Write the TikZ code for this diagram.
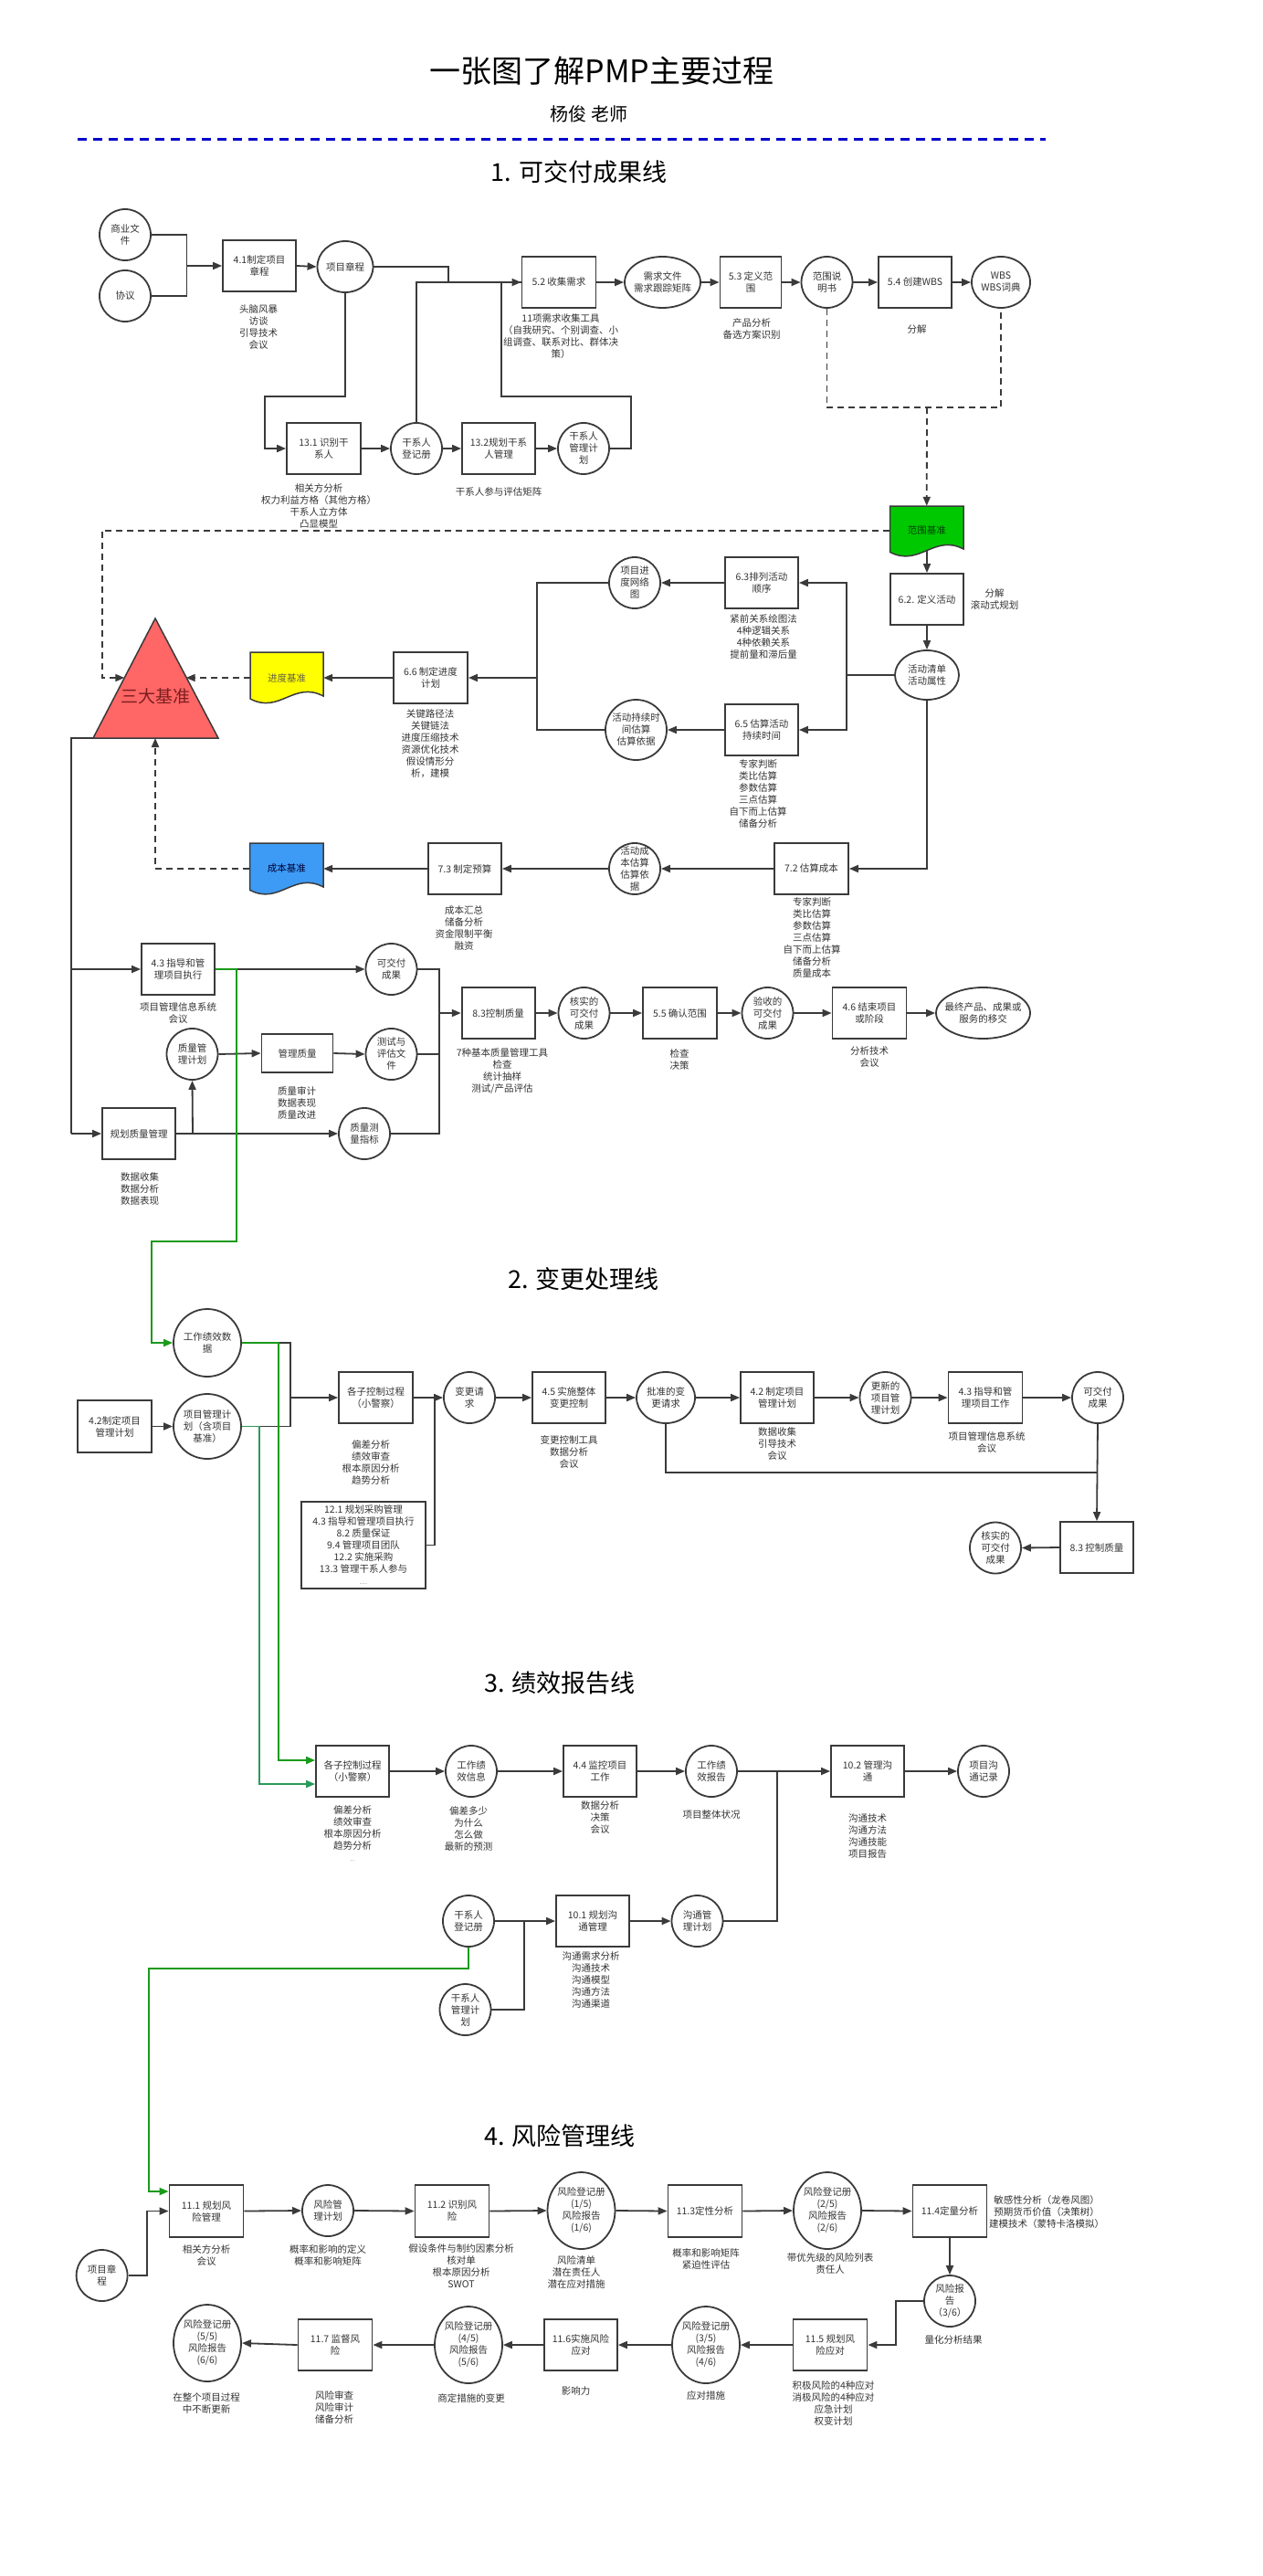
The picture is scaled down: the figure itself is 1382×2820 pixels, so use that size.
\documentclass[tikz,border=0pt]{standalone}
\usepackage{fontspec}
\setmainfont{Noto Sans CJK SC}
\usetikzlibrary{arrows.meta,shapes.geometric}
\definecolor{lc}{HTML}{3A3A3A}
\definecolor{tc}{HTML}{333333}
\definecolor{gA}{HTML}{1A9A1A}
\definecolor{gB}{HTML}{2A9A5A}
\definecolor{dashblue}{HTML}{0000CC}
\definecolor{trired}{HTML}{FF6666}
\definecolor{tritext}{HTML}{7A1F1F}
\definecolor{yel}{HTML}{FFFF00}
\definecolor{grn}{HTML}{00C800}
\definecolor{blu}{HTML}{3D9BF5}
\newcommand{\fs}{\fontsize{10.5}{13}\selectfont}
\begin{document}
\begin{tikzpicture}[x=1pt,y=-1pt,
  ln/.style={draw=lc,line width=1.8pt},
  conn/.style={ln,-{Triangle[length=10pt,width=8pt]}},
  dln/.style={ln,dash pattern=on 7pt off 5pt},
  dconn/.style={dln,-{Triangle[length=10pt,width=8pt]}},
  gconn/.style={draw=gA,line width=1.8pt,-{Triangle[length=10pt,width=8pt]}},
  gconnB/.style={draw=gB,line width=1.8pt,-{Triangle[length=10pt,width=8pt]}},
  box/.style={draw=lc,line width=1.8pt,rectangle,minimum width=80pt,minimum height=56pt,inner sep=1pt,align=center,font=\fs,text=tc},
  circ/.style={draw=lc,line width=1.8pt,ellipse,minimum width=56pt,minimum height=56pt,inner sep=0pt},
  ct/.style={align=center,font=\fs,text=tc,inner sep=0pt},
  note/.style={align=center,font=\fs,text=tc,inner sep=0pt,anchor=north},
  sect/.style={font=\fontsize{27}{32}\selectfont,text=black},
  docn/.style={inner sep=0pt,minimum width=80pt,minimum height=54pt,font=\fs}
]
\useasboundingbox (0,0) rectangle (1382,2820);
\fill[white] (0,0) rectangle (1382,2820);

% ---------- header ----------
\node[font=\fontsize{34}{40}\selectfont] (title) at (659,78) {一张图了解PMP主要过程};
\node[font=\fontsize{20}{24}\selectfont] (author) at (645,125) {杨俊 老师};
\draw[draw=dashblue,line width=3pt,dash pattern=on 10pt off 7pt] (85,153) -- (1145,153);
\node[sect] (s1) at (634,188) {1. 可交付成果线};
\node[sect] (s2) at (639,1400) {2. 变更处理线};
\node[sect] (s3) at (613,1842) {3. 绩效报告线};
\node[sect] (s4) at (613,2338) {4. 风险管理线};

% ---------- section 1 ----------
\node[circ,label={[ct]center:{商业文\\件}}] (syw) at (137,257) {};
\node[circ,label={[ct]center:{协议}}] (xy) at (137,324) {};
\node[box] (b41) at (284,291) {4.1制定项目\\章程};
\node[note] (n41) at (283,333) {头脑风暴\\访谈\\引导技术\\会议};
\node[circ,minimum width=61pt,label={[ct]center:{项目章程}}] (xmzc) at (378,292) {};
\node[box,minimum width=81pt] (b52) at (612,309) {5.2 收集需求};
\node[note] (n52) at (614,343) {11项需求收集工具\\（自我研究、个别调查、小\\组调查、联系对比、群体决\\策）};
\node[circ,minimum width=83pt,label={[ct]center:{需求文件\\需求跟踪矩阵}}] (xqwj) at (725.5,309) {};
\node[box,minimum width=67pt] (b53) at (822,309) {5.3 定义范\\围};
\node[note] (n53) at (823,348) {产品分析\\备选方案识别};
\node[circ,label={[ct]center:{范围说\\明书}}] (fwsms) at (905.5,309) {};
\node[box] (b54) at (1002,309) {5.4 创建WBS};
\node[note] (n54) at (1004,355) {分解};
\node[circ,minimum width=64pt,label={[ct]center:{WBS\\WBS词典}}] (wbs) at (1096,309) {};
\node[box,minimum width=81pt] (b131) at (354.5,491) {13.1 识别干\\系人};
\node[note] (n131) at (349,529) {相关方分析\\权力利益方格（其他方格）\\干系人立方体\\凸显模型};
\node[circ,label={[ct]center:{干系人\\登记册}}] (gxrdjc) at (456,491) {};
\node[box] (b132) at (546,491) {13.2规划干系\\人管理};
\node[note] (n132) at (546,533) {干系人参与评估矩阵};
\node[circ,label={[ct]center:{干系人\\管理计\\划}}] (gxrgljh) at (639,491) {};

\coordinate (j1) at (204.5,291);
\draw[ln] (syw.east) -| (j1) |- (xy.east);
\draw[conn] (j1) -- (b41.west);
\draw[conn] (b41.east) -- (xmzc.west);
\draw[conn] (xmzc.east) -- (491,292) |- (b52.west);
\draw[conn] (xmzc.south) -- (378,434) -- (290,434) |- (b131.west);
\draw[conn] (b131.east) -- (gxrdjc.west);
\draw[conn] (gxrdjc.east) -- (b132.west);
\draw[conn] (b132.east) -- (gxrgljh.west);
\draw[ln] (gxrdjc.north) |- (b52.west);
\draw[ln] (gxrgljh.east) -- (691,491) -- (691,434) -- (549,434) |- (b52.west);
\draw[conn] (b52.east) -- (xqwj.west);
\draw[conn] (xqwj.east) -- (b53.west);
\draw[conn] (b53.east) -- (fwsms.west);
\draw[conn] (fwsms.east) -- (b54.west);
\draw[conn] (b54.east) -- (wbs.west);

% scope baseline document
\filldraw[fill=grn,draw=lc,line width=1.5pt] (974.5,554) -- (1055,554) -- (1055,601) .. controls (1022.8,584.2) and (1006.7,621.2) .. (974.5,604.4) -- cycle;
\node[docn,minimum width=80.5pt,text=black!75!green] (fwjz) at (1014.75,581) {范围基准};
\coordinate (fwjzb) at (1015,603);
\coordinate (jw) at (1015,446);
\draw[dln] (fwsms.south) |- (jw) -| (wbs.south);
\draw[dconn] (jw) -- (fwjz.north);

% triangle
\coordinate (tl) at (136.3,742);
\coordinate (tr) at (203.7,742);
\coordinate (tb) at (170,808);
\coordinate (tbl) at (102,808);
\filldraw[fill=trired,draw=lc,line width=1.5pt] (170,677) -- (239,808) -- (102,808) -- cycle;
\node[font=\fontsize{19}{22}\selectfont,text=tritext] (sdjz) at (170,762) {三大基准};
\draw[dconn] (fwjz.west) -- (111.6,581) -- (111.6,742) -- (tl);

% schedule
\node[box] (b62) at (1015,656) {6.2. 定义活动};
\node[ct] (n62) at (1089,656.5) {分解\\滚动式规划};
\node[circ,minimum width=70pt,minimum height=54pt,label={[ct]center:{活动清单\\活动属性}}] (hdqd) at (1015,739) {};
\node[box] (b63) at (834,638) {6.3排列活动\\顺序};
\node[note] (n63) at (836,672) {紧前关系绘图法\\4种逻辑关系\\4种依赖关系\\提前量和滞后量};
\node[circ,label={[ct]center:{项目进\\度网络\\图}}] (xmjdwlt) at (695,638) {};
\node[box] (b65) at (834,799) {6.5 估算活动\\持续时间};
\node[note] (n65) at (830,831) {专家判断\\类比估算\\参数估算\\三点估算\\自下而上估算\\储备分析};
\node[circ,minimum width=67pt,minimum height=66pt,label={[ct]center:{活动持续时\\间估算\\估算依据}}] (hdcxsj) at (696.5,799) {};
\node[box,minimum width=81pt] (b66) at (471.5,742) {6.6 制定进度\\计划};
\node[note] (n66) at (471,776) {关键路径法\\关键链法\\进度压缩技术\\资源优化技术\\假设情形分\\析，建模};
\filldraw[fill=yel,draw=lc,line width=1.5pt] (274,714) -- (354,714) -- (354,762) .. controls (322,745) and (306,782) .. (274,765) -- cycle;
\node[docn,text=black!70!yellow] (jdjz) at (314,742) {进度基准};

\draw[conn] (fwjzb) -- (b62.north);
\draw[conn] (b62.south) -- (hdqd.north);
\coordinate (j63) at (927,739);
\coordinate (j66) at (588,742);
\draw[ln] (hdqd.west) -- (j63);
\draw[conn] (j63) |- (b63.east);
\draw[conn] (j63) |- (b65.east);
\draw[conn] (b63.west) -- (xmjdwlt.east);
\draw[conn] (b65.west) -- (hdcxsj.east);
\draw[ln] (xmjdwlt.west) -| (j66);
\draw[ln] (hdcxsj.west) -| (j66);
\draw[conn] (j66) -- (b66.east);
\draw[conn] (b66.west) -- (jdjz.east);
\draw[dconn] (jdjz.west) -- (tr);

% cost
\filldraw[fill=blu,draw=lc,line width=1.5pt] (273.5,923) -- (354,923) -- (354,971) .. controls (321.8,953.8) and (305.7,991.4) .. (273.5,974.3) -- cycle;
\node[docn,minimum width=80.5pt,text=black!80!blue] (cbjz) at (313.75,951) {成本基准};
\node[box] (b73) at (509,951) {7.3 制定预算};
\node[note] (n73) at (508,991) {成本汇总\\储备分析\\资金限制平衡\\融资};
\node[circ,label={[ct]center:{活动成\\本估算\\估算依\\据}}] (hdcbgs) at (695,951) {};
\node[box,minimum width=81pt] (b72) at (888.5,951) {7.2 估算成本};
\node[note] (n72) at (889,982) {专家判断\\类比估算\\参数估算\\三点估算\\自下而上估算\\储备分析\\质量成本};
\draw[conn] (hdqd.south) |- (b72.east);
\draw[conn] (b72.west) -- (hdcbgs.east);
\draw[conn] (hdcbgs.west) -- (b73.east);
\draw[conn] (b73.west) -- (cbjz.east);
\draw[dconn] (cbjz.west) -| (tb);

% quality / execution
\node[box] (b43) at (195,1061) {4.3 指导和管\\理项目执行};
\node[note] (n43) at (195,1097) {项目管理信息系统\\会议};
\node[circ,label={[ct]center:{可交付\\成果}}] (kjfcg) at (428.5,1061) {};
\node[circ,label={[ct]center:{质量管\\理计划}}] (zlgljh) at (210.5,1154) {};
\node[box,minimum width=78pt,minimum height=42pt] (bglzl) at (325.5,1153) {管理质量};
\node[note] (nglzl) at (325,1189) {质量审计\\数据表现\\质量改进};
\node[circ,label={[ct]center:{测试与\\评估文\\件}}] (cspg) at (428.5,1154) {};
\node[box] (b83) at (545.7,1109) {8.3控制质量};
\node[note] (n83) at (550,1147) {7种基本质量管理工具\\检查\\统计抽样\\测试/产品评估};
\node[circ,label={[ct]center:{核实的\\可交付\\成果}}] (hsdkjf) at (639.5,1109) {};
\node[box,minimum width=81pt] (b55) at (744.5,1109) {5.5 确认范围};
\node[note] (n55) at (744,1148) {检查\\决策};
\node[circ,label={[ct]center:{验收的\\可交付\\成果}}] (ysdkjf) at (840.5,1109) {};
\node[box,minimum width=81pt] (b46) at (952,1109) {4.6 结束项目\\或阶段};
\node[note] (n46) at (952,1145) {分析技术\\会议};
\node[circ,minimum width=103pt,label={[ct]center:{最终产品、成果或\\服务的移交}}] (zzcp) at (1076.5,1109) {};
\node[box] (bghzl) at (152,1241) {规划质量管理};
\node[note] (nghzl) at (153,1283) {数据收集\\数据分析\\数据表现};
\node[circ,label={[ct]center:{质量测\\量指标}}] (zlclzb) at (399,1241) {};

\coordinate (jl1) at (78,1061);
\coordinate (jl2) at (78,1241);
\draw[ln] (tbl) -- (78,808) -- (jl2);
\draw[conn] (jl1) -- (b43.west);
\draw[conn] (jl2) -- (bghzl.west);
\draw[conn] (b43.east) -- (kjfcg.west);
\draw[conn] (zlgljh.east) -- (bglzl.west);
\draw[conn] (bglzl.east) -- (cspg.west);
\coordinate (jq) at (481,1109);
\draw[ln] (kjfcg.east) -| (481,1241) -- (zlclzb.east);
\draw[ln] (cspg.east) -- (481,1154);
\draw[conn] (jq) -- (b83.west);
\coordinate (jzl) at (211,1241);
\draw[conn] (bghzl.east) -- (zlclzb.west);
\draw[conn] (jzl) -- (zlgljh.south);
\draw[conn] (b83.east) -- (hsdkjf.west);
\draw[conn] (hsdkjf.east) -- (b55.west);
\draw[conn] (b55.east) -- (ysdkjf.west);
\draw[conn] (ysdkjf.east) -- (b46.west);
\draw[conn] (b46.east) -- (zzcp.west);

% ---------- section 2 ----------
\node[circ,minimum width=74pt,minimum height=74pt,label={[ct]center:{工作绩效数\\据}}] (gzjxsj) at (227,1470) {};
\node[box,minimum width=81pt,minimum height=57pt] (b42) at (125.5,1561.5) {4.2制定项目\\管理计划};
\node[circ,minimum width=74pt,minimum height=71pt,label={[ct]center:{项目管理计\\划（含项目\\基准）}}] (xmgljh) at (227,1561.5) {};
\node[box,minimum width=81pt] (bgzkz) at (411.5,1530) {各子控制过程\\（小警察）};
\node[note] (ngzkz) at (406,1576) {偏差分析\\绩效审查\\根本原因分析\\趋势分析};
\node[circ,label={[ct]center:{变更请\\求}}] (bgqq) at (514,1530) {};
\node[box,minimum width=136pt,minimum height=95pt] (listbox) at (398,1691.5) {12.1 规划采购管理\\4.3 指导和管理项目执行\\8.2 质量保证\\9.4 管理项目团队\\12.2 实施采购\\13.3 管理干系人参与\\{\tiny ......}};
\node[box] (b45) at (623,1530) {4.5 实施整体\\变更控制};
\node[note] (n45) at (623,1571) {变更控制工具\\数据分析\\会议};
\node[circ,minimum width=64pt,label={[ct]center:{批准的变\\更请求}}] (pzdbg) at (729,1530) {};
\node[box] (b42b) at (851,1530) {4.2 制定项目\\管理计划};
\node[note] (n42b) at (851,1562) {数据收集\\引导技术\\会议};
\node[circ,label={[ct]center:{更新的\\项目管\\理计划}}] (gxdjh) at (969.5,1530) {};
\node[box,minimum width=81pt] (b43b) at (1079,1530) {4.3 指导和管\\理项目工作};
\node[note] (n43b) at (1080.5,1567) {项目管理信息系统\\会议};
\node[circ,label={[ct]center:{可交付\\成果}}] (kjfcg2) at (1202,1530) {};
\node[box] (b83b) at (1201,1694) {8.3 控制质量};
\node[circ,label={[ct]center:{核实的\\可交付\\成果}}] (hsdkjf2) at (1090,1694.5) {};

\draw[gconn] (b43.east) -- (259,1061) -- (259,1359) -- (166,1359) |- (gzjxsj.west);
\draw[conn] (b42.east) -- (xmgljh.west);
\coordinate (jc) at (318,1530);
\draw[ln] (gzjxsj.east) -- (318,1470) -- (318,1561.5) -- (xmgljh.east);
\draw[conn] (jc) -- (bgzkz.west);
\draw[conn] (bgzkz.east) -- (bgqq.west);
\draw[ln] (listbox.east) -| (476,1530);
\draw[conn] (bgqq.east) -- (b45.west);
\draw[conn] (b45.east) -- (pzdbg.west);
\draw[conn] (pzdbg.east) -- (b42b.west);
\draw[conn] (b42b.east) -- (gxdjh.west);
\draw[conn] (gxdjh.east) -- (b43b.west);
\draw[conn] (b43b.east) -- (kjfcg2.west);
\draw[ln] (pzdbg.south) |- (1202,1612);
\draw[conn] (kjfcg2.south) -- (b83b.north);
\draw[conn] (b83b.west) -- (hsdkjf2.east);

% ---------- section 3 ----------
\node[box] (bgzkz3) at (386,1939) {各子控制过程\\（小警察）};
\node[note] (ngzkz3) at (386,1976) {偏差分析\\绩效审查\\根本原因分析\\趋势分析\\{\tiny ...}};
\node[circ,label={[ct]center:{工作绩\\效信息}}] (gzjxxx) at (516,1939) {};
\node[note] (ngzjxxx) at (513,1977) {偏差多少\\为什么\\怎么做\\最新的预测};
\node[box] (b44) at (657,1939) {4.4 监控项目\\工作};
\node[note] (n44) at (657,1971) {数据分析\\决策\\会议};
\node[circ,label={[ct]center:{工作绩\\效报告}}] (gzjxbg) at (779,1939) {};
\node[note] (ngzjxbg) at (779,1981) {项目整体状况};
\node[box] (b102) at (950,1939) {10.2 管理沟\\通};
\node[note] (n102) at (950,1985) {沟通技术\\沟通方法\\沟通技能\\项目报告};
\node[circ,label={[ct]center:{项目沟\\通记录}}] (xmgtjl) at (1077,1939) {};
\node[circ,label={[ct]center:{干系人\\登记册}}] (gxrdjc3) at (513,2103) {};
\node[box] (b101) at (649,2103) {10.1 规划沟\\通管理};
\node[note] (n101) at (647,2136) {沟通需求分析\\沟通技术\\沟通模型\\沟通方法\\沟通渠道};
\node[circ,label={[ct]center:{沟通管\\理计划}}] (gtgljh) at (763.5,2103) {};
\node[circ,label={[ct]center:{干系人\\管理计\\划}}] (gxrgljh3) at (509.5,2200) {};

\draw[gconn] (gzjxsj.east) -- (305,1470) |- ([yshift=12pt]bgzkz3.west);
\draw[gconnB] (xmgljh.east) -- (284,1561.5) |- ([yshift=-14pt]bgzkz3.west);
\draw[conn] (bgzkz3.east) -- (gzjxxx.west);
\draw[conn] (gzjxxx.east) -- (b44.west);
\draw[conn] (b44.east) -- (gzjxbg.west);
\draw[conn] (gzjxbg.east) -- (b102.west);
\draw[ln] (gtgljh.east) -| (851,1939);
\draw[conn] (b102.east) -- (xmgtjl.west);
\draw[conn] (gxrdjc3.east) -- (b101.west);
\draw[ln] (gxrgljh3.east) -| (574,2103);
\draw[conn] (b101.east) -- (gtgljh.west);

% ---------- section 4 ----------
\node[box,minimum width=81pt,minimum height=57pt] (b111) at (226,2420.5) {11.1 规划风\\险管理};
\node[note] (n111) at (226,2457) {相关方分析\\会议};
\node[circ,label={[ct]center:{项目章\\程}}] (xmzc4) at (111.6,2491) {};
\node[circ,label={[ct]center:{风险管\\理计划}}] (fxgljh) at (359,2420) {};
\node[note] (nfxgljh) at (359,2457) {概率和影响的定义\\概率和影响矩阵};
\node[box,minimum width=81pt,minimum height=57pt] (b112) at (495,2420.5) {11.2 识别风\\险};
\node[note] (n112) at (505,2456) {假设条件与制约因素分析\\核对单\\根本原因分析\\SWOT};
\node[circ,minimum width=74pt,minimum height=84pt,label={[ct]center:{风险登记册\\(1/5)\\风险报告\\(1/6)}}] (fxdjc1) at (636.5,2420) {};
\node[note] (nfx1) at (631,2469) {风险清单\\潜在责任人\\潜在应对措施};
\node[box,minimum width=81pt,minimum height=57pt] (b113) at (772,2420.5) {11.3定性分析};
\node[note] (n113) at (773,2461) {概率和影响矩阵\\紧迫性评估};
\node[circ,minimum width=74pt,minimum height=84pt,label={[ct]center:{风险登记册\\(2/5)\\风险报告\\(2/6)}}] (fxdjc2) at (906,2420) {};
\node[note] (nfx2) at (909,2466) {带优先级的风险列表\\责任人};
\node[box,minimum width=81pt,minimum height=57pt] (b114) at (1040,2420.5) {11.4定量分析};
\node[ct] (n114) at (1146,2421) {敏感性分析（龙卷风图）\\预期货币价值（决策树）\\建模技术（蒙特卡洛模拟）};
\node[circ,label={[ct]center:{风险报\\告\\（3/6）}}] (fxbg3) at (1040,2519) {};
\node[note] (nfxbg3) at (1044,2556) {量化分析结果};
\node[box,minimum width=81pt] (b115) at (909,2567) {11.5 规划风\\险应对};
\node[note] (n115) at (912.5,2606) {积极风险的4种应对\\消极风险的4种应对\\应急计划\\权变计划};
\node[circ,minimum width=74pt,minimum height=84pt,label={[ct]center:{风险登记册\\(3/5)\\风险报告\\(4/6)}}] (fxdjc3) at (773,2567) {};
\node[note] (nfx3) at (773,2617) {应对措施};
\node[box] (b116) at (636,2567) {11.6实施风险\\应对};
\node[note] (n116) at (630.6,2612) {影响力};
\node[circ,minimum width=74pt,minimum height=84pt,label={[ct]center:{风险登记册\\(4/5)\\风险报告\\(5/6)}}] (fxdjc4) at (513,2567) {};
\node[note] (nfx4) at (516,2620) {商定措施的变更};
\node[box,minimum width=81pt] (b117) at (367,2567) {11.7 监督风\\险};
\node[note] (n117) at (366,2617) {风险审查\\风险审计\\储备分析};
\node[circ,minimum width=74pt,minimum height=84pt,label={[ct]center:{风险登记册\\(5/5)\\风险报告\\(6/6)}}] (fxdjc5) at (227,2565) {};
\node[note] (nfx5) at (226,2619) {在整个项目过程\\中不断更新};

\draw[gconn] (gxrdjc3.south) -- (513,2155) -- (163,2155) |- ([yshift=21.5pt]b111.west);
\draw[conn] (xmzc4.east) -- (161,2491) |- (b111.west);
\draw[conn] (b111.east) -- (fxgljh.west);
\draw[conn] (fxgljh.east) -- (b112.west);
\draw[conn] (b112.east) -- (fxdjc1.west);
\draw[conn] (fxdjc1.east) -- (b113.west);
\draw[conn] (b113.east) -- (fxdjc2.west);
\draw[conn] (fxdjc2.east) -- (b114.west);
\draw[conn] (b114.south) -- (fxbg3.north);
\draw[conn] (fxbg3.west) -- (981,2519) |- (b115.east);
\draw[conn] (b115.west) -- (fxdjc3.east);
\draw[conn] (fxdjc3.west) -- (b116.east);
\draw[conn] (b116.west) -- (fxdjc4.east);
\draw[conn] (fxdjc4.west) -- (b117.east);
\draw[conn] (b117.west) -- (fxdjc5.east);
\end{tikzpicture}
\end{document}
